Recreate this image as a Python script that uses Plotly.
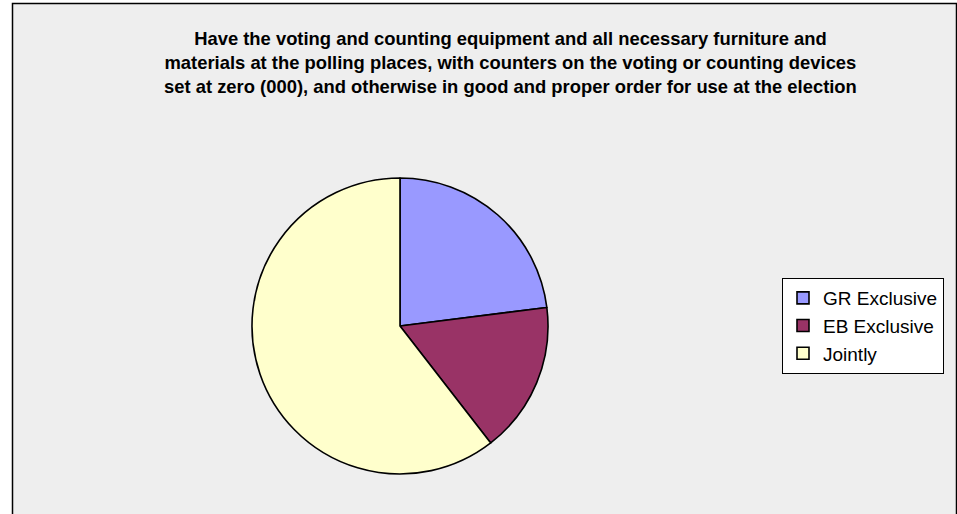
import plotly.graph_objects as go

W, H = 957, 514

labels = ["GR Exclusive", "EB Exclusive", "Jointly"]
values = [23.0, 16.5, 60.5]
colors = ["#9999FF", "#993366", "#FFFFCC"]

title_lines = [
    "Have the voting and counting equipment and all necessary furniture and",
    "materials at the polling places, with counters on the voting or counting devices",
    "set at zero (000), and otherwise in good and proper order for use at the election",
]

fig = go.Figure(go.Pie(
    labels=labels,
    values=values,
    marker=dict(colors=colors, line=dict(color="black", width=1.6)),
    sort=False,
    direction="clockwise",
    rotation=0,
    textinfo="none",
    hoverinfo="label+percent",
    domain=dict(x=[252 / W, 548 / W], y=[1 - 474 / H, 1 - 178 / H]),
))

fig.add_shape(type="rect", xref="paper", yref="paper",
              x0=12.5 / W, x1=956.5 / W, y0=-0.05, y1=1 - 3.5 / H,
              line=dict(color="black", width=1.5), fillcolor="#EEEEEE", layer="below")

fig.add_annotation(
    text="<br>".join("<b>" + t + "</b>" for t in title_lines), xref="paper", yref="paper",
    x=510 / W, y=1 - 26 / H, xanchor="center", yanchor="top",
    showarrow=False, align="center",
    font=dict(family="Liberation Sans", size=18.4, color="black"),
)

fig.update_layout(
    width=W, height=H,
    margin=dict(l=0, r=0, t=0, b=0),
    paper_bgcolor="white",
    plot_bgcolor="white",
    font=dict(family="Liberation Sans", size=19, color="black"),
    legend=dict(
        x=782 / W, y=1 - 278 / H, xanchor="left", yanchor="top",
        bgcolor="white", bordercolor="black", borderwidth=1,
        font=dict(size=19),
    ),
    showlegend=True,
)

fig.write_html(
    "out.html",
    config={"displayModeBar": False},
    post_script="document.body.style.margin='0';document.body.style.overflow='hidden';",
)
